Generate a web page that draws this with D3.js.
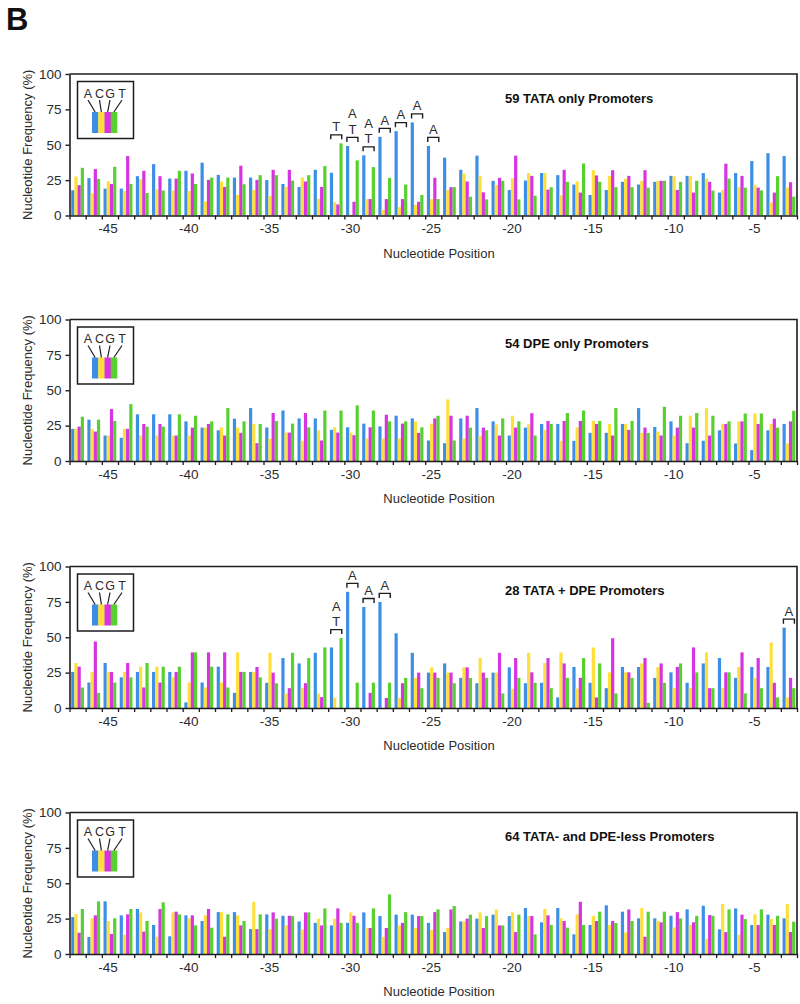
<!DOCTYPE html>
<html><head><meta charset="utf-8">
<script src="https://cdn.jsdelivr.net/npm/d3@7"></script>
<style>
body{margin:0;background:#fff;}
svg{display:block;font-family:"Liberation Sans",Arial,Helvetica,sans-serif;}
</style>
</head><body>
<svg id="chart" width="800" height="1004"></svg>
<script>
// ---------- data ----------
const positions = [-47,-46,-45,-44,-43,-42,-41,-40,-39,-38,-37,-36,-35,-34,-33,-32,-31,-30,-29,-28,-27,-26,-25,-24,-23,-22,-21,-20,-19,-18,-17,-16,-15,-14,-13,-12,-11,-10,-9,-8,-7,-6,-5,-4,-3];
const bases = ["A","C","G","T"];
const baseColors = ["#3c8ee6","#ffdf3a","#d534df","#58d02f"];
const yTicks = [0,25,50,75,100];
const xTickLabels = [-45,-40,-35,-30,-25,-20,-15,-10,-5];
const panelTitles = ["59 TATA only Promoters","54 DPE only Promoters","28 TATA + DPE Promoters","64 TATA- and DPE-less Promoters"];
const yTitle = "Nucleotide Frequency (%)";
const xTitle = "Nucleotide Position";

// Panel 1: TATA only
const tataA = [17.8,26.4,19,19,27.8,36.3,26.1,31.6,37.3,28.7,26.8,26.8,25, 22.3,20.2,32.3,30.2,49.2,42.5,55.6,59.6,65.8,49.2,40.9,32.3,42.3,24.5,18, 24.7,30,28.5,21.9,14.5,18,23.8,21.9,23.8,28,28,30,16.2,30,38.5,44,42];
const tataC = [27.5,15.7,24.2,17.3,25.7,18.5,17.6,17.3,10,24,14.5,18,13.8, 20.2,26.8,11.9,9.5,0.7,11.6,4,5.9,7.6,11.6,18,29.7,27.8,21.6,26.4, 30,30,14.3,24,32,28,26.1,24.5,24.5,27.8,27.8,26.1,18,20,21.6,9.3,19.7];
const tataG = [21.4,32.8,22.3,42,31.6,27.8,26.1,29.7,25.2,20.2,35.2,25.2,32.3, 32.3,24,20.2,7.8,9.7,11.6,11.6,11.6,9.7,26.6,20,24,16.4,26.6,42.3, 28,18.3,32.3,16.2,28.3,32,28,32,24.5,18,16.2,23.8,36.6,28,19.7,16.2,23.5];
const tataT = [33.7,25.9,34.4,22.3,15.9,17.6,31.6,22.3,26.8,26.8,22.1,28.5,28.5, 24.7,28.5,34.9,51,39,34.2,26.6,21.9,14.5,11.6,20,13.3,11.4,24.5,11.4, 14,20,23.8,36.8,23.8,20,20,19.7,24.5,23.8,24.5,17.6,26.1,19.7,17.8,27.8,13.3];
const tataMarks = [["T"],["A","T"],["A","T"],["A"],["A"],["A"],["A"]];
const tataMarkPos = [-31,-30,-29,-28,-27,-26,-25];

// Panel 2: DPE only
const dpeA = [22.7,29.2,18,16.4,33,33,33,28,23.6,21.7,29.9,37.4,23.7, 35.7,30.1,30.1,22,23.8,26.4,24.5,32,30.1,14.5,12.6,30.1,37.4,28,18, 23.6,26.2,26.2,14.3,19.9,19.9,26.2,37.4,24,28,12.6,14.3,21.7,12.4,7.7,21.7,26.2];
const dpeC = [22.7,22.7,18,22.7,18,18,18,18,23.6,23.6,23.6,26.2,15.8, 20.1,14.3,21.7,23.8,20.1,15.9,15.9,15.9,28,26.4,43.5,15.9,17.8,25.9,32, 25.9,22,14.3,23.8,28.3,26.2,26.2,19.9,20.8,18,32,37.4,26.2,28,33.6,26.2,12.4];
const dpeG = [24.3,20.8,36.7,22.7,26.2,26.2,18,23.6,26.2,18,19.9,12.6,33.9, 20.1,33.9,14.5,20.1,18.2,23.8,32.7,26.4,19.9,30.1,32,32,23.6,18,23.6, 33.8,28.3,28.3,28.3,26.2,18,22,23.6,18,23.6,23.6,18,26.2,28,26.2,29.9,28];
const dpeT = [31.3,29.2,28.3,40.2,24.3,24.3,33,32,28,37.4,28,26.2,28.3, 26.4,23.8,35.7,35.7,39.3,35.7,28,28,23.8,32,14.5,23.6,21.7,30.1,28, 18,26.2,33.9,35.7,28.3,37.4,28.3,19.9,38.3,32,33.9,32,28,33.6,33.6,23.6,35.5];
const dpeMarks = [];
const dpeMarkPos = [];

// Panel 3: TATA + DPE
const bothA = [25.5,18,31.8,21.7,25.5,25.5,25.5,4,18,29.2,10.7,25.5,17.8, 35.3,31.5,39,42.8,82.1,71.4,75,52.8,39,25,31.5,21.3,17.5,25,28.7, 17.5,17.8,7.5,29,17.8,14,29,29,21.3,25.2,17.8,31.5,35.3,21.3,29,29,56.8];
const bothC = [31.8,25.5,25.5,25.5,29.2,29.2,21.7,18,14.5,18,39.3,25.5,39, 10.2,14,10.2,7.3,0,0,0,7,21.3,28.7,25,28.7,35.3,25,13.6, 39,31.8,39.3,13.8,42.8,25.2,25.2,31.5,29,14,14,39.3,14,29,21.3,46.3,7.5];
const bothG = [29.2,47,25.5,31.8,14.5,18,25.5,39.3,39.3,39.3,25.5,29,25, 14,17.5,7.7,0,0,10.7,7.1,17.5,25,25,25,28.7,25,39,35.3, 25.2,35.3,31.5,21.3,7.5,49.3,25.2,35.3,31.5,29,42.8,14,25.2,39.3,35.3,17.8,21.3];
const bothT = [14.5,10.7,18,21.7,31.8,29.2,29.2,39.3,29.2,14.5,25.5,21.7,17.5, 39,35.3,42.8,49.4,17.9,17.9,17.9,21.3,14,21.3,17.5,21.3,21.3,10.3,21.3, 17.8,14,21.3,35.3,31.5,10.3,21.3,3.7,17.8,31.5,25.2,14,25.2,10.3,14,7.5,14];
const bothMarks = [["A","T"],["A"],["A"],["A"],["A"]];
const bothMarkPos = [-31,-30,-29,-28,-3];

// Panel 4: TATA- and DPE-less
const noneA = [26.1,12,37.2,27.3,31.8,20.5,12.5,27.3,23.3,29.6,29.6,17.6,28, 27,23,22,20.2,22,29.4,26.8,27.8,27.8,22,15.5,23,25,27.8,26.8, 32.5,22.4,32.5,13.9,20.5,34.4,29.9,25.2,25.2,27,31.5,34.1,17.4,32.2,20.5,27.8,25.2];
const noneC = [28.2,25.2,23.3,13.6,29.4,12.2,29.4,25.2,27.3,29.6,27.3,36.9,17.6, 20.2,17.4,25,25,29.4,18.4,12,20,18.4,17,18.4,23,29.4,31.3,29.4, 26.8,31.8,25.2,28,27,20.5,15.3,32.5,23.3,18.8,20.5,10.8,35.3,13.6,28,24.7,35.3];
const noneG = [15,27.3,14.1,28,15.8,31.8,29.9,27.3,31.8,12.2,20.2,17.6,29.4, 27,29.4,20.2,32.2,27,18.4,18.4,22,26.8,29.6,31.5,25,18.4,20.2,15.5, 26.8,27.3,23.3,36.9,23.3,23.3,31.5,12.2,22.4,29.6,22.4,27.5,15.5,27.8,20.5,20.5,15.5];
const noneT = [31.8,37.2,25.2,31.8,23.3,36.5,28,20.2,18.6,28,23.3,28,25, 26.8,29.4,32.2,22,22,32.2,42.1,29.6,26.8,31.5,33.9,27.8,26.8,20.2,27.8, 13.9,20.5,18.6,20.5,29.9,21.9,23.3,29.9,29.9,25.2,27,27,31.5,24.7,31.5,27,22.8];
const noneMarks = [];
const noneMarkPos = [];

// ---------- layout ----------
const panels = [
  {title: panelTitles[0], series: [tataA,tataC,tataG,tataT], marks: tataMarks, markPos: tataMarkPos},
  {title: panelTitles[1], series: [dpeA,dpeC,dpeG,dpeT], marks: dpeMarks, markPos: dpeMarkPos},
  {title: panelTitles[2], series: [bothA,bothC,bothG,bothT], marks: bothMarks, markPos: bothMarkPos},
  {title: panelTitles[3], series: [noneA,noneC,noneG,noneT], marks: noneMarks, markPos: noneMarkPos}
];
const tops = [74, 319.5, 566.5, 812.5];
const H = 141.5;
const x0 = 69.5, x1 = 797;
const FONT = "Liberation Sans, Arial, Helvetica, sans-serif";
const ink = "#1c1c22", txt = "#2b2b2b";

const svg = d3.select("#chart");

svg.append("text").attr("x",6).attr("y",30).attr("font-size",31).attr("font-weight","bold")
  .attr("fill","#111").text("B");

const xBand = d3.scaleBand().domain(positions).range([x0, x1]).padding(0);
const bw = xBand.bandwidth();
const xInner = d3.scaleBand().domain(bases).range([1.7, bw - 1.7]).padding(0);
const color = d3.scaleOrdinal().domain(bases).range(baseColors);
const xEdge = d3.scaleLinear().domain([0, positions.length]).range([x0, x1]);
const y = d3.scaleLinear().domain([0, 100]).range([H, 0]);

panels.forEach((p, i) => {
  const g = svg.append("g").attr("transform", `translate(0,${tops[i]})`);

  // bars
  const rows = positions.map((pos, j) => ({pos, vals: bases.map((b, k) => ({b, v: p.series[k][j]}))}));
  g.append("g").selectAll("g").data(rows).join("g")
    .attr("transform", d => `translate(${xBand(d.pos)},0)`)
    .selectAll("rect").data(d => d.vals).join("rect")
    .attr("x", d => xInner(d.b)).attr("width", xInner.bandwidth())
    .attr("y", d => y(d.v)).attr("height", d => H - y(d.v))
    .attr("fill", d => color(d.b));

  // frame (top + right)
  g.append("path").attr("d", `M${x0},0H${x1}V${H}`).attr("fill","none")
    .attr("stroke", ink).attr("stroke-width", 1.6);

  // y axis
  const ya = g.append("g").attr("transform", `translate(${x0},0)`)
    .call(d3.axisLeft(y).tickValues(yTicks).tickSize(4).tickSizeOuter(0).tickPadding(4));
  ya.attr("font-family", FONT).attr("font-size", 13.5);
  ya.selectAll("text").attr("fill", txt);
  ya.selectAll("line").attr("stroke", ink).attr("stroke-width", 1.4);
  ya.select(".domain").attr("stroke", ink).attr("stroke-width", 1.6);

  // x axis: boundary ticks
  const xe = g.append("g").attr("transform", `translate(0,${H})`)
    .call(d3.axisBottom(xEdge).tickValues(d3.range(0, positions.length + 1)).tickSize(4).tickSizeOuter(0).tickFormat(""));
  xe.selectAll("line").attr("stroke", ink).attr("stroke-width", 1.3);
  xe.select(".domain").attr("stroke", ink).attr("stroke-width", 1.6);

  // x axis: labels
  const xa = g.append("g").attr("transform", `translate(-2,${H})`)
    .call(d3.axisBottom(xBand).tickValues(xTickLabels).tickSize(0).tickPadding(8));
  xa.attr("font-family", FONT).attr("font-size", 13.5);
  xa.select(".domain").remove();
  xa.selectAll("text").attr("fill", txt);

  // axis titles
  g.append("text").attr("transform", `translate(27,${H/2}) rotate(-90)`)
    .attr("text-anchor","middle").attr("dy","0.35em").attr("font-size",13).attr("fill",txt).text(yTitle);
  g.append("text").attr("x", 439).attr("y", H + 37.5).attr("dy","0.35em")
    .attr("text-anchor","middle").attr("font-size",13).attr("fill",txt).text(xTitle);

  // panel title
  g.append("text").attr("x", 505).attr("y", 28.5).attr("font-size", 13).attr("font-weight","bold")
    .attr("fill","#111").text(p.title);

  // legend box
  const lg = g.append("g").attr("transform", "translate(77.5,7.5)");
  lg.append("rect").attr("width",56).attr("height",57).attr("fill","#fff")
    .attr("stroke", ink).attr("stroke-width",1.5);
  const lbX = d3.scaleBand().domain(bases).range([14.5, 39.5]);
  const letterX = [10.5, 22, 32.5, 44.5];
  bases.forEach((b, k) => {
    lg.append("rect").attr("x", lbX(b)).attr("y", 30.5).attr("width", lbX.bandwidth()+0.3).attr("height", 21)
      .attr("fill", color(b));
    lg.append("line").attr("x1", letterX[k]).attr("y1", 18.5).attr("x2", lbX(b) + lbX.bandwidth()/2).attr("y2", 30.5)
      .attr("stroke", ink).attr("stroke-width", 1.2);
    lg.append("text").attr("x", letterX[k]).attr("y", 16).attr("text-anchor","middle")
      .attr("font-size", 12.5).attr("fill", txt).text(b);
  });

  // bracket annotations
  p.markPos.forEach((pos, m) => {
    const j = positions.indexOf(pos);
    const top = d3.max(p.series, s => s[j]);
    const cx = xBand(pos) + bw / 2;
    const ly = y(top) - 8.5;
    g.append("path").attr("d", `M${cx-5.5},${ly+4.5}V${ly}H${cx+5.5}V${ly+4.5}`)
      .attr("fill","none").attr("stroke", ink).attr("stroke-width", 1.4);
    const letters = p.marks[m].slice().reverse();
    letters.forEach((L, q) => {
      g.append("text").attr("x", cx).attr("y", ly - 3.5 - q * 15.5).attr("text-anchor","middle")
        .attr("font-size", 13).attr("fill", txt).text(L);
    });
  });
});
</script>
</body></html>
